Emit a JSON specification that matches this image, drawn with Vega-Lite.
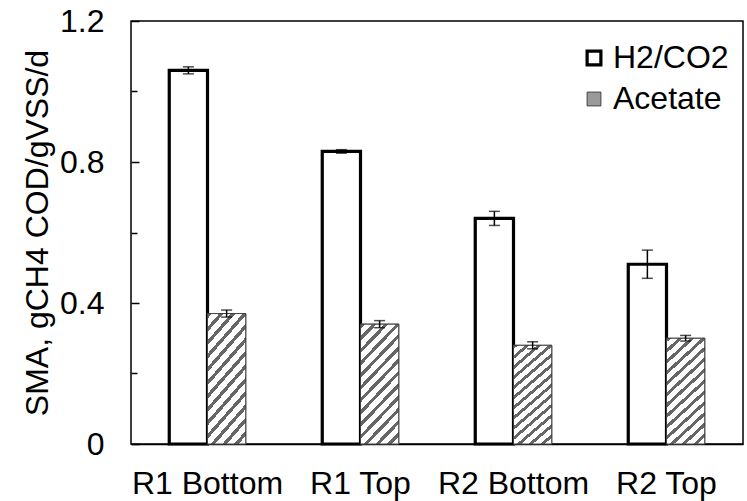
{
  "$schema": "https://vega.github.io/schema/vega-lite/v6.json",
  "autosize": "none",
  "width": 612,
  "height": 423,
  "padding": {"left": 131, "top": 21, "right": 4, "bottom": 57},
  "background": "white",
  "config": {
    "view": {"stroke": "black", "strokeWidth": 1.5},
    "font": "Liberation Sans",
    "axis": {"labelFont": "Liberation Sans", "titleFont": "Liberation Sans", "labelColor": "black", "titleColor": "black", "domainColor": "black", "domainWidth": 1.5, "tickColor": "black", "grid": false}
  },
  "resolve": {"axis": {"y": "independent"}},
  "data": {
    "values": [
      {"site": "R1 Bottom", "series": "H2/CO2", "value": 1.06, "lo": 1.05, "hi": 1.07},
      {"site": "R1 Bottom", "series": "Acetate", "value": 0.37, "lo": 0.36, "hi": 0.38},
      {"site": "R1 Top", "series": "H2/CO2", "value": 0.83, "lo": 0.825, "hi": 0.835},
      {"site": "R1 Top", "series": "Acetate", "value": 0.34, "lo": 0.33, "hi": 0.35},
      {"site": "R2 Bottom", "series": "H2/CO2", "value": 0.64, "lo": 0.62, "hi": 0.66},
      {"site": "R2 Bottom", "series": "Acetate", "value": 0.28, "lo": 0.27, "hi": 0.29},
      {"site": "R2 Top", "series": "H2/CO2", "value": 0.51, "lo": 0.47, "hi": 0.55},
      {"site": "R2 Top", "series": "Acetate", "value": 0.30, "lo": 0.292, "hi": 0.308}
    ]
  },
  "encoding": {
    "x": {
      "field": "site", "type": "nominal", "sort": ["R1 Bottom", "R1 Top", "R2 Bottom", "R2 Top"],
      "scale": {"paddingInner": 0.5, "paddingOuter": 0.25},
      "axis": {"title": null, "labelAngle": 0, "ticks": false, "labelFontSize": 32, "labelPadding": 24}
    },
    "xOffset": {"field": "series", "type": "nominal", "sort": ["H2/CO2", "Acetate"], "scale": {"paddingInner": 0, "paddingOuter": 0}}
  },
  "layer": [
    {
      "mark": {"type": "bar"},
      "encoding": {
        "y": {
          "field": "value", "type": "quantitative",
          "scale": {"domain": [0, 1.2], "nice": false},
          "axis": {
            "orient": "left",
            "title": "SMA, gCH4 COD/gVSS/d", "titleFontSize": 32, "titleFontWeight": "normal", "titlePadding": 5,
            "values": [0, 0.4, 0.8, 1.2],
            "labelExpr": "datum.value == 0 ? '0' : format(datum.value, '.1f')",
            "domain": false, "offset": -8,
            "tickSize": 8, "tickWidth": 1.5, "labelFontSize": 32, "labelPadding": 27
          }
        },
        "fill": {
          "field": "series", "type": "nominal", "sort": ["H2/CO2", "Acetate"],
          "scale": {"domain": ["H2/CO2", "Acetate"], "range": ["white", "#9a9a9a"]},
          "legend": {
            "title": null, "orient": "none", "legendX": 447, "legendY": 21,
            "symbolType": "square", "symbolSize": 190, "labelFontSize": 32, "labelFont": "Liberation Sans",
            "labelColor": "black", "rowPadding": 9, "labelOffset": 3, "padding": 0
          }
        },
        "stroke": {
          "field": "series", "type": "nominal", "sort": ["H2/CO2", "Acetate"],
          "scale": {"domain": ["H2/CO2", "Acetate"], "range": ["black", "#404040"]}
        },
        "strokeWidth": {
          "field": "series", "type": "nominal", "sort": ["H2/CO2", "Acetate"],
          "scale": {"domain": ["H2/CO2", "Acetate"], "range": [3.2, 1]}
        }
      }
    },
    {
      "transform": [{"filter": "datum.series == 'Acetate'"}],
      "mark": {
        "type": "bar", "stroke": "#404040", "strokeWidth": 1,
        "fill": {
          "gradient": "linear", "x1": 0, "y1": 0, "x2": 0.4, "y2": 1.2,
          "stops": [
            {"offset": 0, "color": "#666666"}, {"offset": 0.0292, "color": "#666666"}, {"offset": 0.0292, "color": "#ffffff"}, {"offset": 0.0769, "color": "#ffffff"},
            {"offset": 0.0769, "color": "#666666"}, {"offset": 0.1062, "color": "#666666"}, {"offset": 0.1062, "color": "#ffffff"}, {"offset": 0.1538, "color": "#ffffff"},
            {"offset": 0.1538, "color": "#666666"}, {"offset": 0.1831, "color": "#666666"}, {"offset": 0.1831, "color": "#ffffff"}, {"offset": 0.2308, "color": "#ffffff"},
            {"offset": 0.2308, "color": "#666666"}, {"offset": 0.26, "color": "#666666"}, {"offset": 0.26, "color": "#ffffff"}, {"offset": 0.3077, "color": "#ffffff"},
            {"offset": 0.3077, "color": "#666666"}, {"offset": 0.3369, "color": "#666666"}, {"offset": 0.3369, "color": "#ffffff"}, {"offset": 0.3846, "color": "#ffffff"},
            {"offset": 0.3846, "color": "#666666"}, {"offset": 0.4138, "color": "#666666"}, {"offset": 0.4138, "color": "#ffffff"}, {"offset": 0.4615, "color": "#ffffff"},
            {"offset": 0.4615, "color": "#666666"}, {"offset": 0.4908, "color": "#666666"}, {"offset": 0.4908, "color": "#ffffff"}, {"offset": 0.5385, "color": "#ffffff"},
            {"offset": 0.5385, "color": "#666666"}, {"offset": 0.5677, "color": "#666666"}, {"offset": 0.5677, "color": "#ffffff"}, {"offset": 0.6154, "color": "#ffffff"},
            {"offset": 0.6154, "color": "#666666"}, {"offset": 0.6446, "color": "#666666"}, {"offset": 0.6446, "color": "#ffffff"}, {"offset": 0.6923, "color": "#ffffff"},
            {"offset": 0.6923, "color": "#666666"}, {"offset": 0.7215, "color": "#666666"}, {"offset": 0.7215, "color": "#ffffff"}, {"offset": 0.7692, "color": "#ffffff"},
            {"offset": 0.7692, "color": "#666666"}, {"offset": 0.7985, "color": "#666666"}, {"offset": 0.7985, "color": "#ffffff"}, {"offset": 0.8462, "color": "#ffffff"},
            {"offset": 0.8462, "color": "#666666"}, {"offset": 0.8754, "color": "#666666"}, {"offset": 0.8754, "color": "#ffffff"}, {"offset": 0.9231, "color": "#ffffff"},
            {"offset": 0.9231, "color": "#666666"}, {"offset": 0.9523, "color": "#666666"}, {"offset": 0.9523, "color": "#ffffff"}, {"offset": 1, "color": "#ffffff"}
          ]
        }
      },
      "encoding": {
        "y": {"field": "value", "type": "quantitative", "axis": null}
      }
    },
    {
      "mark": {"type": "rule", "color": "black", "strokeWidth": 1.5},
      "encoding": {
        "y": {
          "field": "lo", "type": "quantitative",
          "axis": {
            "orient": "left", "title": null, "values": [0.2, 0.6, 1.0], "labels": false,
            "domain": false, "offset": -6, "tickSize": 6, "tickWidth": 1.5
          }
        },
        "y2": {"field": "hi"}
      }
    },
    {
      "mark": {"type": "tick", "orient": "horizontal", "color": "black", "size": 11, "thickness": 1.5},
      "encoding": {"y": {"field": "lo", "type": "quantitative", "axis": null}}
    },
    {
      "mark": {"type": "tick", "orient": "horizontal", "color": "black", "size": 11, "thickness": 1.5},
      "encoding": {"y": {"field": "hi", "type": "quantitative", "axis": null}}
    }
  ]
}
